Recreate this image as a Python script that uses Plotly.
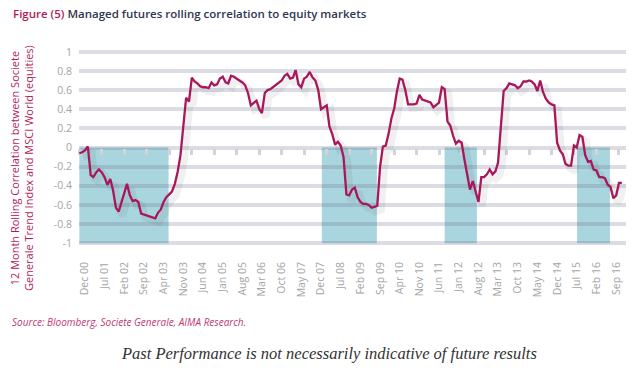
import plotly.graph_objects as go
import pandas as pd

# ---- data -------------------------------------------------------------
first_month = "2000-10-01"
corr = [
    -0.06, -0.05, -0.03, 0.01, -0.29, -0.31, -0.26, -0.23, -0.26, -0.31,   # Oct00-Jul01
    -0.39, -0.33, -0.45, -0.63, -0.67, -0.56, -0.45, -0.38, -0.50, -0.56,  # Aug01-May02
    -0.55, -0.57, -0.69, -0.70, -0.71, -0.72, -0.73, -0.74, -0.68, -0.65,  # Jun02-Mar03
    -0.57, -0.52, -0.49, -0.46, -0.38, -0.25, -0.08, 0.25, 0.52, 0.48,     # Apr03-Jan04
    0.73, 0.69, 0.67, 0.64, 0.63, 0.63, 0.62, 0.68, 0.65, 0.66,            # Feb04-Nov04
    0.72, 0.74, 0.68, 0.67, 0.75, 0.74, 0.72, 0.70, 0.68, 0.65,            # Dec04-Sep05
    0.57, 0.44, 0.46, 0.49, 0.40, 0.36, 0.57, 0.60, 0.61, 0.63,            # Oct05-Jul06
    0.66, 0.68, 0.70, 0.75, 0.77, 0.72, 0.73, 0.81, 0.66, 0.63,            # Aug06-May07
    0.72, 0.74, 0.79, 0.73, 0.70, 0.60, 0.40, 0.42, 0.44, 0.22,            # Jun07-Mar08
    0.14, 0.03, 0.06, 0.02, -0.10, -0.49, -0.50, -0.44, -0.42, -0.52,      # Apr08-Jan09
    -0.57, -0.59, -0.59, -0.60, -0.63, -0.62, -0.61, -0.20, 0.01, 0.02,    # Feb09-Nov09
    0.14, 0.30, 0.41, 0.58, 0.72, 0.71, 0.60, 0.45, 0.45, 0.45,            # Dec09-Sep10
    0.46, 0.55, 0.50, 0.49, 0.48, 0.47, 0.42, 0.45, 0.47, 0.63,            # Oct10-Jul11
    0.61, 0.27, 0.23, 0.12, 0.04, 0.07, 0.05, -0.12, -0.30, -0.44,         # Aug11-May12
    -0.35, -0.45, -0.57, -0.31, -0.31, -0.28, -0.23, -0.28, -0.25, -0.16,  # Jun12-Mar13
    0.20, 0.59, 0.62, 0.67, 0.66, 0.65, 0.62, 0.64, 0.69, 0.69,            # Apr13-Jan14
    0.70, 0.69, 0.66, 0.59, 0.70, 0.58, 0.51, 0.47, 0.45, 0.44,            # Feb14-Nov14
    0.05, -0.03, -0.07, -0.17, -0.19, -0.19, 0.02, 0.00, 0.13, 0.11,       # Dec14-Sep15
    -0.08, -0.15, -0.14, -0.23, -0.24, -0.31, -0.31, -0.32, -0.39, -0.41,  # Oct15-Jul16
    -0.53, -0.50, -0.37, -0.37,                                            # Aug16-Nov16
]
months = pd.date_range(first_month, periods=len(corr), freq="MS")

tick_labels = ["Dec 00", "Jul 01", "Feb 02", "Sep 02", "Apr 03", "Nov 03", "Jun 04",
               "Jan 05", "Aug 05", "Mar 06", "Oct 06", "May 07", "Dec 07", "Jul 08",
               "Feb 09", "Sep 09", "Apr 10", "Nov 10", "Jun 11", "Jan 12", "Aug 12",
               "Mar 13", "Oct 13", "May 14", "Dec 14", "Jul 15", "Feb 16", "Sep 16"]
tick_dates = pd.date_range("2000-12-01", periods=len(tick_labels), freq="7MS")

y_tick_vals = [1, 0.8, 0.6, 0.4, 0.2, 0, -0.2, -0.4, -0.6, -0.8, -1]
y_tick_text = ["1", "0.8", "0.6", "0.4", "0.2", "0", "-0.2", "-0.4", "-0.6", "-0.8", "-1"]

shade_start = ["2000-10-01", "2007-12-10", "2011-08-01", "2015-07-05"]
shade_end = ["2003-05-25", "2009-07-28", "2012-07-15", "2016-06-25"]

# ---- style ------------------------------------------------------------
W, H = 632, 373
ML, MR, MT, MB = 79, 0, 48, 120
PW, PH = W - ML - MR, H - MT - MB
XR = ["2000-09-27", "2016-12-16"]
YR = [-1.04, 1.04]
CRIMSON = "#a8175a"
GRID = "rgba(95,95,130,0.22)"
SHADE = "#a9d5de"
main_xdom = [0, 547 / PW]
main_ydom = [6 / PH, 1]
dx, dy = 4, 4

fig = go.Figure()
# shadow of the line (same data, shifted subplot)
fig.add_trace(go.Scatter(x=months, y=corr, mode="lines", xaxis="x2", yaxis="y2",
                         line=dict(color="rgba(70,70,70,0.08)", width=7),
                         hoverinfo="skip", showlegend=False))
# main line
fig.add_trace(go.Scatter(x=months, y=corr, mode="lines", xaxis="x3", yaxis="y3",
                         line=dict(color=CRIMSON, width=2.3),
                         showlegend=False))
# carrier for zero-line tick axis
fig.add_trace(go.Scatter(x=[], y=[], xaxis="x4", yaxis="y", showlegend=False))

for s, e in zip(shade_start, shade_end):
    fig.add_shape(type="rect", xref="x", yref="y", x0=s, x1=e, y0=-1, y1=0,
                  fillcolor=SHADE, line=dict(width=0), layer="below")

font = "Open Sans"
fig.update_layout(
    width=W, height=H,
    margin=dict(l=ML, r=MR, t=MT, b=MB),
    paper_bgcolor="white", plot_bgcolor="rgba(0,0,0,0)",
    showlegend=False,
    xaxis=dict(domain=main_xdom, range=XR, type="date",
               tickvals=tick_dates, ticktext=tick_labels, tickangle=-90,
               tickfont=dict(family=font, size=10.5, color="#a4a4a4"),
               showgrid=False, zeroline=False, showline=False, ticks="",
               ticklabelstandoff=12),
    yaxis=dict(domain=main_ydom, range=YR, tickvals=y_tick_vals, ticktext=y_tick_text,
               tickfont=dict(family=font, size=10.5, color="#a4a4a4"),
               showgrid=True, gridcolor=GRID, gridwidth=4, zeroline=False,
               showline=False, ticks="", ticklabelstandoff=6),
    xaxis2=dict(domain=[dx / PW, (547 + dx) / PW], range=XR, type="date",
                visible=False, anchor="y2"),
    yaxis2=dict(domain=[(6 - dy) / PH, 1 - dy / PH], range=YR, visible=False, anchor="x2"),
    xaxis3=dict(domain=main_xdom, range=XR, type="date", visible=False, anchor="y3"),
    yaxis3=dict(domain=main_ydom, range=YR, visible=False, anchor="x3"),
    xaxis4=dict(overlaying="x", anchor="free",
                position=main_ydom[0] + (main_ydom[1] - main_ydom[0]) * (0 - YR[0]) / (YR[1] - YR[0]),
                range=XR, type="date", tick0=first_month, dtick="M8",
                ticks="outside", ticklen=6, tickwidth=3, tickcolor="#d2d2da",
                showticklabels=False, showgrid=False, zeroline=False, showline=False),
)

def px_x(p):
    return (p - ML) / PW

def px_y(p):
    return (MT + PH - p) / PH

fig.add_annotation(
    x=px_x(11), y=px_y(13), xref="paper", yref="paper", xanchor="left", yanchor="middle",
    showarrow=False,
    text="<span style='color:#b5195b'>Figure (5)</span> Managed futures rolling correlation to equity markets",
    font=dict(family=font, size=11.5, color="#2f3652", weight=600))
fig.add_annotation(
    x=px_x(21), y=px_y(168), xref="paper", yref="paper", xanchor="center", yanchor="middle",
    showarrow=False, textangle=-90,
    text="12 Month Rolling Correlation between Societe<br>Generale Trend Index and MSCI World (equities)",
    font=dict(family=font, size=11, color="#b01d5d"))
fig.add_annotation(
    x=px_x(10), y=px_y(322), xref="paper", yref="paper", xanchor="left", yanchor="middle",
    showarrow=False, text="<i>Source: Bloomberg, Societe Generale, AIMA Research.</i>",
    font=dict(family=font, size=10, color="#c03874"))
fig.add_annotation(
    x=px_x(329), y=px_y(353), xref="paper", yref="paper", xanchor="center", yanchor="middle",
    showarrow=False, text="<i>Past Performance is not necessarily indicative of future results</i>",
    font=dict(family="Liberation Serif", size=16.5, color="#333333"))

fig.write_html("out.html", config={"displayModeBar": False},
               post_script="document.body.style.margin='0';document.body.style.padding='0';")
